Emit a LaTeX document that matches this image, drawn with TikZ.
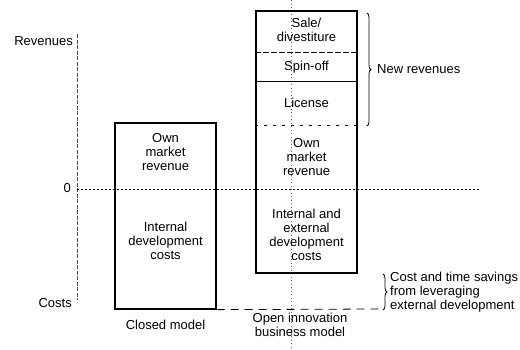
\documentclass[tikz,border=0pt]{standalone}
\usepackage{fontspec}
\setmainfont{Liberation Sans}
\usetikzlibrary{decorations.pathreplacing}
\begin{document}
\begin{tikzpicture}[x=1pt,y=-1pt,
  every node/.style={font=\fontsize{13}{14}\selectfont, inner sep=0pt},
  box/.style={draw, line width=1.3pt, minimum width=101pt},
  txt/.style={align=center},
  divider/.style={line width=0.7pt},
  axisline/.style={line width=0.6pt, black!70, dash pattern=on 4pt off 1.5pt},
  zeroline/.style={line width=0.6pt, dash pattern=on 2pt off 2pt},
  savings/.style={line width=0.8pt, dash pattern=on 8pt off 6pt},
  bracestyle/.style={decorate, decoration={brace, amplitude=4pt}, line width=0.8pt},
  fold/.style={line width=0.5pt, black!60, dash pattern=on 1pt off 2.5pt},
]
\useasboundingbox (0,0) rectangle (520,349);
% scan fold line
\coordinate (f1) at (291,0);
\coordinate (f2) at (291,349);
\draw[fold] (f1) -- (f2);
% axis
\coordinate (axtop) at (77,34);
\coordinate (axbot) at (77,300);
\draw[axisline] (axtop) -- (axbot);
\node[anchor=east] (rev) at (73,41) {Revenues};
\node[anchor=east] (zero) at (71,188) {0};
\node[anchor=east] (costs) at (72,303) {Costs};
% zero line
\coordinate (z0) at (77,189);
\coordinate (zend) at (480,189);
\draw[zeroline] (z0) -- (zend);
% boxes
\node[box, minimum height=186pt] (closed) at (165.5,216) {};
\node[box, minimum height=262pt] (open) at (306.5,142) {};
% dividers
\draw[divider, dash pattern=on 6pt off 2pt] (open.west |- 0,52) -- (open.east |- 0,52);
\draw[divider] (open.west |- 0,81) -- (open.east |- 0,81);
\draw[divider, dash pattern=on 3pt off 6pt] (open.west |- 0,125) -- (open.east |- 0,125);
% closed texts
\node[txt] (cown) at (165.5,152) {Own\\market\\revenue};
\node[txt] (cint) at (165.5,241) {Internal\\development\\costs};
\node[txt] (cname) at (165.5,325) {Closed model};
% open texts
\node[txt] (sale) at (306.5,30) {Sale/\\divestiture};
\node[txt] (spin) at (306.5,67) {Spin-off};
\node[txt] (lic) at (306.5,103) {License};
\node[txt] (oown) at (306.5,157) {Own\\market\\revenue};
\node[txt] (oint) at (306.5,235) {Internal and\\external\\development\\costs};
\node[txt] (oname) at (300,325) {Open innovation\\business model};
% new revenues
\coordinate (nb1) at (367,13);
\coordinate (nb2) at (367,126);
\draw[bracestyle] (nb1) -- (nb2);
\node[anchor=west] (newrev) at (377,69) {New revenues};
% savings
\coordinate (send) at (380,309);
\draw[savings] (closed.south east) -- (send);
\coordinate (sb1) at (383,274);
\coordinate (sb2) at (383,310);
\draw[bracestyle] (sb1) -- (sb2);
\node[anchor=west, align=left] (savtxt) at (390,292) {Cost and time savings\\from leveraging\\external development};
\end{tikzpicture}
\end{document}
